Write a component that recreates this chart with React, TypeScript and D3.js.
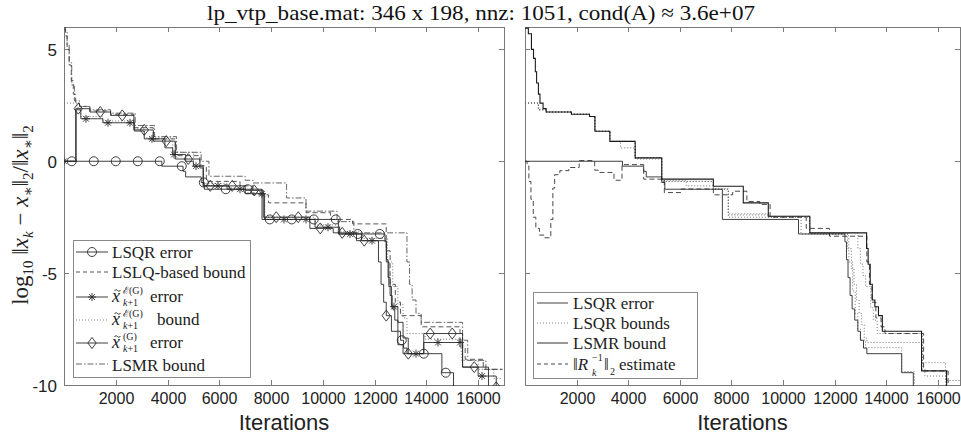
import React from "react";
import * as d3 from "d3";

type Pt = [number, number];

const titleText = "lp_vtp_base.mat: 346 x 198, nnz: 1051, cond(A) \u2248 3.6e+07";
const xTickValues = [2000, 4000, 6000, 8000, 10000, 12000, 14000, 16000];
const yTickValues = [5, 0, -5, -10];
const xLabelText = "Iterations";

// ---- left panel series (iteration, log10 relative error), step-after ----
const lsqrError: Pt[] = [
  [0, 0], [3780, -0.22], [4600, -0.45], [4700, -0.7], [5300, -0.95], [5420, -1.25],
  [7650, -2.6], [10600, -3.25], [12400, -3.6], [12460, -4.4], [12520, -5.2], [12600, -6.0],
  [12680, -6.6], [12780, -7.1], [12900, -7.6], [13000, -8.0], [13120, -8.35], [13250, -8.6],
  [14600, -9.45], [15050, -10.6], [16950, -10.6],
];
const lslqBound: Pt[] = [
  [0, 5.9], [60, 5.6], [120, 5.0], [200, 4.3], [280, 3.6], [360, 3.0], [450, 2.6], [600, 2.45],
  [1000, 2.25], [1800, 2.1], [2700, 1.5], [3450, 1.0], [4300, 0.25], [5250, -0.2], [5500, -0.9],
  [6800, -1.1], [7300, -1.5], [7900, -1.86], [9350, -2.3], [10300, -2.6], [11150, -2.8],
  [12450, -4.0], [12600, -5.5], [12800, -6.3], [13000, -6.9], [13800, -7.4], [15300, -8.3],
  [15500, -8.85], [16200, -9.3], [16950, -9.3],
];
const xeError: Pt[] = [
  [0, 0], [470, 2.3], [650, 1.9], [1500, 1.72], [2720, 1.35], [3100, 1.0], [3900, 0.6],
  [4200, 0.3], [4700, 0.0], [5000, -0.22], [5380, -1.1], [6300, -1.25], [7000, -1.45],
  [7750, -2.6], [9700, -2.95], [10650, -3.25], [11500, -3.55], [12450, -4.5], [12550, -5.6],
  [12650, -6.5], [12900, -7.2], [13100, -7.9], [13300, -8.6], [13900, -8.1], [15400, -9.2],
  [16000, -9.6], [16700, -10.2], [16950, -10.2],
];
const xeBound: Pt[] = [
  [0, 2.6], [500, 2.4], [650, 2.0], [1500, 1.8], [2720, 1.45], [3100, 1.05], [4200, 0.4],
  [5000, -0.15], [5380, -1.0], [6300, -1.2], [7000, -1.4], [7750, -2.5], [9700, -2.85],
  [10650, -3.15], [11500, -3.45], [12500, -4.5], [12700, -5.6], [12900, -6.4], [13100, -7.0],
  [13250, -7.7], [13950, -7.95], [15350, -8.9], [16000, -9.3], [16600, -9.7], [16950, -9.7],
];
const xgError: Pt[] = [
  [0, 0], [450, 2.35], [1000, 2.2], [1800, 2.05], [2700, 1.4], [3450, 0.9], [4300, 0.1],
  [5250, -0.3], [5380, -1.1], [7000, -1.3], [7700, -2.5], [9500, -3.0], [10400, -3.2],
  [11300, -3.55], [12150, -4.5], [12250, -5.5], [12350, -6.3], [12450, -6.9], [12650, -7.6],
  [12900, -8.2], [13100, -8.6], [13900, -7.7], [15400, -9.2], [16400, -10.1], [16950, -10.1],
];
const lsmrBoundLeft: Pt[] = [
  [0, 6.0], [60, 5.8], [120, 5.2], [200, 4.4], [300, 3.4], [400, 2.7], [600, 2.45],
  [1000, 2.3], [1800, 2.15], [2750, 1.6], [3500, 1.1], [4350, 0.4], [5300, 0.0], [5600, -0.67],
  [7000, -0.85], [7300, -0.97], [8600, -1.64], [9350, -2.23], [10550, -2.7], [11200, -3.2],
  [13250, -4.5], [13350, -5.5], [13450, -6.2], [13600, -6.8], [13800, -7.2], [15400, -8.0],
  [15600, -8.9], [16300, -9.3], [16950, -9.3],
];

const circleIters = [300, 1150, 2000, 2850, 3700, 4550, 5400, 6250, 7100, 7950, 8800, 9650, 10500, 11350, 12200, 13050, 13900, 14750];
const starIters = [0, 850, 1700, 2550, 3400, 4250, 5100, 5950, 6800, 7650, 8500, 9350, 10200, 11050, 11900, 12750, 13600, 14450, 15300, 16150];
const diamondIters = [550, 1400, 2250, 3100, 3950, 4800, 5650, 6500, 7350, 8200, 9050, 9900, 10750, 11600, 12450, 13300, 14150, 15000, 15850, 16700];

// ---- right panel series ----
const lsmrBoundRight: Pt[] = [
  [0, 5.95], [130, 5.7], [250, 5.0], [330, 4.6], [400, 4.0], [450, 3.5], [520, 3.0], [580, 2.6],
  [700, 2.35], [820, 2.2], [1800, 2.1], [2500, 2.0], [2710, 1.34], [3290, 0.89], [4270, 0.15],
  [5300, -0.8], [7300, -1.12], [8460, -1.86], [9430, -2.46], [11040, -3.2], [13240, -3.9],
  [13300, -4.6], [13380, -5.5], [13460, -6.2], [13560, -6.5], [13700, -6.9], [13850, -7.6],
  [15370, -9.37], [16340, -10.6], [16860, -10.6],
];
const lsqrBound1: Pt[] = [
  [0, 2.6], [520, 2.3], [820, 2.2], [1800, 2.1], [2500, 2.0], [2710, 1.34], [3290, 0.89],
  [3700, 0.6], [4270, 0.1], [5300, -0.85], [6250, -1.1], [7300, -1.22], [7880, -2.35],
  [9430, -2.46], [11040, -3.2], [12900, -3.9], [13000, -4.6], [13100, -5.1], [13200, -5.6],
  [13400, -6.55], [13500, -7.1], [13650, -7.7], [15400, -9.0], [16300, -9.8], [16860, -9.8],
];
const lsqrBound2: Pt[] = [
  [0, 2.6], [520, 2.3], [820, 2.2], [1800, 2.1], [2500, 2.0], [2710, 1.34], [3290, 0.89],
  [4270, 0.15], [5300, -0.9], [7300, -1.25], [7880, -2.4], [9430, -2.5], [11040, -3.25],
  [12500, -3.9], [12650, -4.8], [12750, -5.5], [12850, -6.2], [12950, -6.8], [13050, -7.3],
  [13150, -7.9], [13250, -8.1], [15400, -9.3], [15500, -9.6], [16300, -10.2], [16860, -10.2],
];
const lsqrBound3: Pt[] = [
  [0, 2.6], [520, 2.3], [820, 2.2], [1800, 2.1], [2500, 2.0], [2710, 1.34], [3290, 0.89],
  [4270, 0.15], [5300, -0.9], [7300, -1.25], [7880, -2.5], [10700, -3.25], [12550, -4.5],
  [12700, -5.8], [12800, -6.8], [12900, -7.5], [13000, -8.0], [13200, -8.33], [14600, -9.4],
  [15100, -10.6], [16860, -10.6],
];
const rInvEstimate: Pt[] = [
  [0, 0], [80, -0.2], [150, -0.9], [230, -1.7], [320, -2.5], [420, -3.0], [560, -3.3],
  [760, -3.42], [1000, -2.6], [1080, -1.2], [1150, -0.6], [1350, -0.42], [1700, -0.28],
  [2100, 0.03], [2700, -0.4], [2900, -0.5], [3450, -0.85], [3760, -0.15], [4600, -0.8],
  [5400, -1.4], [6050, -1.24], [7300, -1.5], [8050, -1.34], [8600, -1.8], [9100, -1.93],
  [9500, -2.5], [10900, -3.0], [11800, -3.35], [13250, -4.5], [13350, -5.5], [13450, -6.3],
  [13600, -7.0], [13800, -7.4], [13950, -7.7], [15450, -9.37], [16400, -10.6], [16860, -10.6],
];

const W = 961;
const H = 437;
const Y0 = 27;
const Y1 = 385;
const yDomain: [number, number] = [-10, 6];
const leftBox = { x0: 64, x1: 504, xMax: 17000 };
const rightBox = { x0: 525, x1: 960, xMax: 16860 };

const AX = "#7a7a7a";
const LINE = "#2a2a2a";
const SERIF = "'Liberation Serif', 'DejaVu Serif', serif";
const SANS = "'Liberation Sans', Arial, sans-serif";
const LF = 17; // legend font size

function valueAt(data: Pt[], x: number): number {
  let v = data[0][1];
  for (const p of data) {
    if (p[0] <= x) v = p[1];
    else break;
  }
  return v;
}

const starPath = "M-4,0L4,0M0,-4L0,4M-2.9,-2.9L2.9,2.9M-2.9,2.9L2.9,-2.9";
const diamondPath = "M0,-5.5L4.2,0L0,5.5L-4.2,0Z";

type Box = { x0: number; x1: number; xMax: number };

function Axes({ box, id, showYLabels }: { box: Box; id: string; showYLabels: boolean }) {
  const xs = d3.scaleLinear().domain([0, box.xMax]).range([box.x0, box.x1]);
  const ys = d3.scaleLinear().domain(yDomain).range([Y1, Y0]);
  const tl = 5;
  return (
    <g>
      <rect x={box.x0 + 0.5} y={Y0 + 0.5} width={box.x1 - box.x0} height={Y1 - Y0} fill="none" stroke={AX} strokeWidth={1} />
      {xTickValues.map((t) => {
        const x = Math.round(xs(t)) + 0.5;
        return (
          <g key={"x" + t}>
            <line x1={x} x2={x} y1={Y1} y2={Y1 - tl} stroke={AX} />
            <line x1={x} x2={x} y1={Y0} y2={Y0 + tl} stroke={AX} />
            <text x={x} y={Y1 + 19} textAnchor="middle" fontFamily={SANS} fontSize={16} fill="#222">
              {t}
            </text>
          </g>
        );
      })}
      {yTickValues.map((t) => {
        const y = Math.round(ys(t)) + 0.5;
        return (
          <g key={"y" + t}>
            <line x1={box.x0} x2={box.x0 + tl} y1={y} y2={y} stroke={AX} />
            <line x1={box.x1} x2={box.x1 - tl} y1={y} y2={y} stroke={AX} />
            {showYLabels && (
              <text x={box.x0 - 7} y={y + 6} textAnchor="end" fontFamily={SANS} fontSize={17} fill="#222">
                {t}
              </text>
            )}
          </g>
        );
      })}
      <text x={(box.x0 + box.x1) / 2} y={Y1 + 45} textAnchor="middle" fontFamily={SANS} fontSize={22} fill="#222">
        {xLabelText}
      </text>
      <clipPath id={id}>
        <rect x={box.x0} y={Y0} width={box.x1 - box.x0 + 1} height={Y1 - Y0 + 1} />
      </clipPath>
    </g>
  );
}

function Series({ data, box, clip, dash, color = LINE, width = 0.9 }: { data: Pt[]; box: Box; clip: string; dash?: string; color?: string; width?: number }) {
  const xs = d3.scaleLinear().domain([0, box.xMax]).range([box.x0, box.x1]);
  const ys = d3.scaleLinear().domain(yDomain).range([Y1, Y0]);
  const line = d3
    .line<Pt>()
    .x((d) => xs(d[0]))
    .y((d) => ys(d[1]))
    .curve(d3.curveStepAfter);
  return <path d={line(data) || ""} fill="none" stroke={color} strokeWidth={width} strokeDasharray={dash} clipPath={`url(#${clip})`} />;
}

function Markers({ data, iters, box, clip, kind }: { data: Pt[]; iters: number[]; box: Box; clip: string; kind: "o" | "*" | "d" }) {
  const xs = d3.scaleLinear().domain([0, box.xMax]).range([box.x0, box.x1]);
  const ys = d3.scaleLinear().domain(yDomain).range([Y1, Y0]);
  return (
    <g clipPath={`url(#${clip})`}>
      {iters.map((it) => {
        const v = valueAt(data, it);
        if (v < yDomain[0] - 0.3) return null;
        const x = xs(it);
        const y = ys(v);
        if (kind === "o") return <circle key={it} cx={x} cy={y} r={4.5} fill="none" stroke={LINE} strokeWidth={0.9} />;
        if (kind === "*") return <path key={it} d={starPath} transform={`translate(${x},${y})`} fill="none" stroke={LINE} strokeWidth={0.9} />;
        return <path key={it} d={diamondPath} transform={`translate(${x},${y})`} fill="none" stroke={LINE} strokeWidth={0.9} />;
      })}
    </g>
  );
}

const DASH = "5,3";
const DOT = "1,2";
const DASHDOT = "6,2,1.5,2";

function XTilde({ x, y, sup }: { x: number; y: number; sup: string }) {
  return (
    <g fill="#222">
      <text x={x} y={y} fontFamily={SERIF} fontSize={LF + 1} fontStyle="italic">
        x
      </text>
      <path
        d={`M${x + 2.5},${y - 11} c1,-1.6 2,-1.6 3,-0.5 c1,1.1 2,1.1 3,-0.5`}
        fill="none"
        stroke="#222"
        strokeWidth={0.9}
      />
      <text x={x + 11} y={y - 8} fontFamily={SERIF} fontSize={10}>
        {sup}
      </text>
      <text x={x + 11} y={y + 4} fontFamily={SERIF} fontSize={10}>
        <tspan fontStyle="italic">k</tspan>+1
      </text>
    </g>
  );
}

export default function App() {
  const L = leftBox;
  const R = rightBox;
  const lg = { x: 73, y: 240, w: 177, h: 137 };
  const rg = { x: 533, y: 292, w: 164, h: 86 };
  const sampleL = (y: number, dash?: string, marker?: "o" | "*" | "d", color = LINE) => (
    <g>
      <line x1={lg.x + 3} x2={lg.x + 35} y1={y} y2={y} stroke={color} strokeWidth={0.9} strokeDasharray={dash} />
      {marker === "o" && <circle cx={lg.x + 19} cy={y} r={4.5} fill="none" stroke={LINE} strokeWidth={0.9} />}
      {marker === "*" && <path d={starPath} transform={`translate(${lg.x + 19},${y})`} fill="none" stroke={LINE} strokeWidth={0.9} />}
      {marker === "d" && <path d={diamondPath} transform={`translate(${lg.x + 19},${y})`} fill="none" stroke={LINE} strokeWidth={0.9} />}
    </g>
  );
  const sampleR = (y: number, dash?: string, color = LINE) => (
    <line x1={rg.x + 4} x2={rg.x + 35} y1={y} y2={y} stroke={color} strokeWidth={0.9} strokeDasharray={dash} />
  );
  return (
    <svg width={W} height={H} viewBox={`0 0 ${W} ${H}`} style={{ display: "block", position: "absolute", left: 0, top: 0, background: "#fff" }}>
      <rect x={0} y={0} width={W} height={H} fill="#fff" />
      <text x={481} y={20} textAnchor="middle" fontFamily={SERIF} fontSize={22} textLength={548} lengthAdjust="spacingAndGlyphs" fill="#111">
        {titleText}
      </text>
      <text transform="translate(28,215) rotate(-90)" textAnchor="middle" fontFamily={SERIF} fontSize={23} fill="#222">
        log<tspan dy={5} fontSize={15}>10</tspan>
        <tspan dy={-5} fontSize={23}> {"\u2016"}</tspan>
        <tspan fontStyle="italic" fontSize={23}>x</tspan>
        <tspan dy={5} fontSize={15} fontStyle="italic">k</tspan>
        <tspan dy={-5} fontSize={23}> {"\u2212"} </tspan>
        <tspan fontStyle="italic" fontSize={23}>x</tspan>
        <tspan dy={5} fontSize={15}>{"\u2217"}</tspan>
        <tspan dy={-5} fontSize={23}>{"\u2016"}</tspan>
        <tspan dy={5} fontSize={15}>2</tspan>
        <tspan dy={-5} fontSize={23}>/{"\u2016"}</tspan>
        <tspan fontStyle="italic" fontSize={23}>x</tspan>
        <tspan dy={5} fontSize={15}>{"\u2217"}</tspan>
        <tspan dy={-5} fontSize={23}>{"\u2016"}</tspan>
        <tspan dy={5} fontSize={15}>2</tspan>
      </text>

      {/* left panel */}
      <Axes box={L} id="clipL" showYLabels={true} />
      <Series data={lsmrBoundLeft} box={L} clip="clipL" dash={DASHDOT} color="#555" />
      <Series data={lslqBound} box={L} clip="clipL" dash={DASH} color="#444" />
      <Series data={xeBound} box={L} clip="clipL" dash={DOT} color="#666" />
      <Series data={lsqrError} box={L} clip="clipL" />
      <Series data={xeError} box={L} clip="clipL" />
      <Series data={xgError} box={L} clip="clipL" />
      <Markers data={lsqrError} iters={circleIters} box={L} clip="clipL" kind="o" />
      <Markers data={xeError} iters={starIters} box={L} clip="clipL" kind="*" />
      <Markers data={xgError} iters={diamondIters} box={L} clip="clipL" kind="d" />

      {/* left legend */}
      <rect x={lg.x + 0.5} y={lg.y + 0.5} width={lg.w} height={lg.h} fill="#fff" stroke="#8a8a8a" />
      {sampleL(252, undefined, "o")}
      {sampleL(272, "4,3", undefined, "#444")}
      {sampleL(297, undefined, "*")}
      {sampleL(320, DOT, undefined, "#777")}
      {sampleL(343, undefined, "d")}
      {sampleL(364, DASHDOT, undefined, "#555")}
      <text x={112} y={258} fontFamily={SERIF} fontSize={LF} fill="#222">LSQR error</text>
      <text x={112} y={278} fontFamily={SERIF} fontSize={LF} fill="#222">LSLQ-based bound</text>
      <text x={150} y={302} fontFamily={SERIF} fontSize={LF} fill="#222">error</text>
      <text x={157} y={325} fontFamily={SERIF} fontSize={LF} fill="#222">bound</text>
      <text x={150} y={348} fontFamily={SERIF} fontSize={LF} fill="#222">error</text>
      <text x={112} y={371} fontFamily={SERIF} fontSize={LF} fill="#222">LSMR bound</text>
      <XTilde x={112} y={302} sup={"\u2130(G)"} />
      <XTilde x={112} y={325} sup={"\u2130(G)"} />
      <XTilde x={112} y={348} sup={"(G)"} />

      {/* right panel */}
      <Axes box={R} id="clipR" showYLabels={false} />
      <Series data={lsqrBound1} box={R} clip="clipR" dash={DOT} color="#666" />
      <Series data={lsqrBound2} box={R} clip="clipR" dash={DOT} color="#666" />
      <Series data={lsqrBound3} box={R} clip="clipR" dash={DOT} color="#666" />
      <Series data={rInvEstimate} box={R} clip="clipR" dash={DASH} color="#333" />
      <Series data={lsqrError} box={R} clip="clipR" />
      <Series data={lsmrBoundRight} box={R} clip="clipR" color="#1a1a1a" width={1.1} />

      {/* right legend */}
      <rect x={rg.x + 0.5} y={rg.y + 0.5} width={rg.w} height={rg.h} fill="#fff" stroke="#8a8a8a" />
      {sampleR(303)}
      {sampleR(323, DOT, "#777")}
      {sampleR(343, undefined, "#1a1a1a")}
      {sampleR(364, "4,3", "#333")}
      <text x={573} y={309} fontFamily={SERIF} fontSize={LF} fill="#222">LSQR error</text>
      <text x={573} y={329} fontFamily={SERIF} fontSize={LF} fill="#222">LSQR bounds</text>
      <text x={573} y={349} fontFamily={SERIF} fontSize={LF} fill="#222">LSMR bound</text>
      <text x={573} y={370} fontFamily={SERIF} fontSize={LF} fill="#222">
        {"\u2016"}
        <tspan fontStyle="italic" fontSize={LF}>R</tspan>
      </text>
      <text x={592} y={361} fontFamily={SERIF} fontSize={10} fill="#222">{"\u22121"}</text>
      <text x={592} y={376} fontFamily={SERIF} fontSize={10} fontStyle="italic" fill="#222">k</text>
      <text x={604} y={370} fontFamily={SERIF} fontSize={LF} fill="#222">{"\u2016"}</text>
      <text x={610} y={375} fontFamily={SERIF} fontSize={10} fill="#222">2</text>
      <text x={619} y={370} fontFamily={SERIF} fontSize={LF} fill="#222">estimate</text>
    </svg>
  );
}
